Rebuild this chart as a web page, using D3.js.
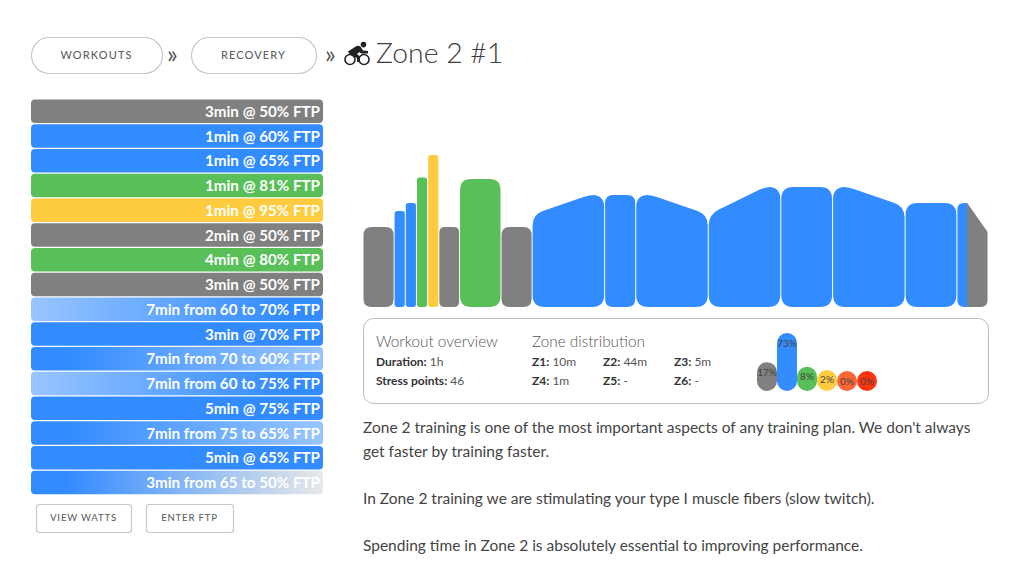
<!DOCTYPE html>
<html><head><meta charset="utf-8">
<script src="https://cdn.jsdelivr.net/npm/d3@7/dist/d3.min.js"></script>
<style>html,body{margin:0;padding:0;background:#fff}svg{display:block;font-family:Lato,sans-serif}</style>
</head><body><svg id="c" width="1024" height="565"></svg>
<script>
const zoneColors = ["#808080","#328bff","#59bf59","#ffcc3f","#ff6633","#ff330d"];

const stepLabels = ["3min @ 50% FTP","1min @ 60% FTP","1min @ 65% FTP","1min @ 81% FTP","1min @ 95% FTP","2min @ 50% FTP","4min @ 80% FTP","3min @ 50% FTP","7min from 60 to 70% FTP","3min @ 70% FTP","7min from 70 to 60% FTP","7min from 60 to 75% FTP","5min @ 75% FTP","7min from 75 to 65% FTP","5min @ 65% FTP","3min from 65 to 50% FTP"];
const stepMinutes = [3,1.08,1.08,1.08,1.08,2,4,3,7,3,7,7,5,7,5,3];
const stepFrom = [50,60,65,81,95,50,80,50,60,70,70,60,75,75,65,65];
const stepTo   = [50,60,65,81,95,50,80,50,70,70,60,75,75,65,65,47];
const stepZone = [0,1,1,2,3,0,2,0,1,1,1,1,1,1,1,1];
const stepEndZone = [0,1,1,2,3,0,2,0,1,1,1,1,1,1,1,0];
const lastKneeMinutes = 1;

const zoneLabels = ["17%","73%","8%","2%","0%","0%"];
const zoneShare = [17,73,8,2,0,0];
const overviewLabels = [["Duration:"," 1h"],["Stress points:"," 46"]];
const zoneTimes = [["Z1:"," 10m"],["Z2:"," 44m"],["Z3:"," 5m"],["Z4:"," 1m"],["Z5:"," -"],["Z6:"," -"]];
const paragraphLines = ["Zone 2 training is one of the most important aspects of any training plan. We don't always","get faster by training faster.","In Zone 2 training we are stimulating your type I muscle fibers (slow twitch).","Spending time in Zone 2 is absolutely essential to improving performance."];

const svg = d3.select("#c"), defs = svg.append("defs");

// ---------- header
function pill(x,y,w,h,r,label,fs,ls){
  const g = svg.append("g");
  g.append("rect").attr("x",x+.5).attr("y",y+.5).attr("width",w).attr("height",h).attr("rx",r)
    .attr("fill","#fff").attr("stroke","#c8c8c8").attr("stroke-width",1.2);
  g.append("text").attr("x",x+w/2).attr("y",y+h/2+fs*0.36).attr("text-anchor","middle")
    .attr("font-size",fs).attr("font-weight",500).attr("letter-spacing",ls).attr("fill","#5f5f5f").text(label);
}
pill(31,37,131,36,18,"WORKOUTS",11,1.1);
pill(191,37,125,36,18,"RECOVERY",11,1.1);
pill(36,504,95,28,3,"VIEW WATTS",9.6,.8);
pill(146,504,87,28,3,"ENTER FTP",9.6,.8);
[[167,63],[325,63]].forEach(p=>svg.append("text").attr("x",p[0]).attr("y",p[1]).attr("font-size",25).attr("font-weight",400).attr("fill","#555").text("»"));

// cyclist icon
const ic = svg.append("g").attr("transform","translate(344,42)").attr("fill","none").attr("stroke","#222");
ic.append("circle").attr("cx",6).attr("cy",17.5).attr("r",5).attr("stroke-width",1.6);
ic.append("circle").attr("cx",20).attr("cy",17.5).attr("r",5).attr("stroke-width",1.6);
ic.append("circle").attr("cx",19.5).attr("cy",2.6).attr("r",2.8).attr("fill","#222").attr("stroke","none");
ic.append("path").attr("fill","#222").attr("stroke","none")
  .attr("d","M4 9.5 L12.5 4 Q16 3 17.5 6 L19 8.5 L24 9 L24 11.5 L17 11.5 L15.5 10 L13 12 L16 14.5 L16 20 L13 20 L13 16 L8 14 Q5 12.5 4 9.5Z");
svg.append("text").attr("x",376).attr("y",63).attr("font-size",28.4).attr("font-weight",300).attr("fill","#3c3c3c").text("Zone 2 #1");

// ---------- step list
const rowY = d3.scaleBand().domain(d3.range(stepLabels.length)).range([99.5,494.3]).paddingInner(0.05);
const pale = (i,f)=>d3.interpolateRgb(zoneColors[i],"#fff")(f);
stepLabels.forEach((lab,i)=>{
  const z=stepZone[i], ze=stepEndZone[i], up=stepFrom[i]<stepTo[i], down=stepFrom[i]>stepTo[i];
  let c0=zoneColors[z], c1=zoneColors[ze];
  if(up) c0=pale(z,.5);
  else if(down) c1=(ze!==z)?pale(ze,.82):pale(ze,.5);
  const g=defs.append("linearGradient").attr("id","row"+i);
  g.append("stop").attr("offset",up?"0%":"12%").attr("stop-color",c0);
  g.append("stop").attr("offset",up?"88%":"100%").attr("stop-color",c1);
  svg.append("rect").attr("x",31).attr("y",rowY(i)).attr("width",292).attr("height",rowY.bandwidth()).attr("rx",4).attr("fill",`url(#row${i})`);
  svg.append("text").attr("x",320).attr("y",rowY(i)+rowY.bandwidth()/2+5.6).attr("text-anchor","end")
    .attr("font-size",15.2).attr("font-weight",700).attr("fill","#fff").text(lab);
});

// ---------- profile chart
const cum = d3.cumsum(stepMinutes);
const x = d3.scaleLinear().domain([0,cum[cum.length-1]]).range([363,988]);
const y = d3.scaleLinear().domain([0,100]).range([307,147]);
function roundedPoly(pts){
  const n=pts.length; let d="";
  pts.forEach((p,i)=>{
    const a=pts[(i-1+n)%n], b=pts[(i+1)%n], r=p[2];
    const la=Math.hypot(a[0]-p[0],a[1]-p[1]), lb=Math.hypot(b[0]-p[0],b[1]-p[1]);
    const s=[p[0]+(a[0]-p[0])*r/la,p[1]+(a[1]-p[1])*r/la], e=[p[0]+(b[0]-p[0])*r/lb,p[1]+(b[1]-p[1])*r/lb];
    d+=(i?"L":"M")+s[0]+" "+s[1]+"Q"+p[0]+" "+p[1]+" "+e[0]+" "+e[1];
  });
  return d+"Z";
}
stepMinutes.forEach((m,i)=>{
  const t0=i?cum[i-1]:0, x0=x(t0)+.5, x1=x(cum[i])-.5;
  const r=Math.min(12,(x1-x0)*.27), split=stepZone[i]!==stepEndZone[i];
  let pts;
  if(split){
    const k=x(t0+lastKneeMinutes);
    pts=[[x0,y(0),r*.8],[x0,y(stepFrom[i]),r*.8],[k,y(stepFrom[i]),0.5],[x1,y(stepTo[i]),1],[x1,y(0),r*.8]];
    const g=defs.append("linearGradient").attr("id","bar"+i).attr("gradientUnits","userSpaceOnUse")
      .attr("x1",x0).attr("x2",x1).attr("y1",0).attr("y2",0);
    const off=(k-x0)/(x1-x0);
    [[off,zoneColors[stepZone[i]]],[off,zoneColors[stepEndZone[i]]]].forEach(s=>g.append("stop").attr("offset",s[0]).attr("stop-color",s[1]));
  } else if(stepFrom[i]<stepTo[i]){
    pts=[[x0,y(0),r],[x0,y(stepFrom[i])+3.5,r*.9],[x1-15,y(stepTo[i]),6],[x1,y(stepTo[i]),12],[x1,y(0),r]];
  } else if(stepFrom[i]>stepTo[i]){
    pts=[[x0,y(0),r],[x0,y(stepFrom[i]),12],[x0+15,y(stepFrom[i]),6],[x1,y(stepTo[i])+3.5,r*.9],[x1,y(0),r]];
  } else {
    pts=[[x0,y(0),r],[x0,y(stepFrom[i]),r],[x1,y(stepTo[i]),r],[x1,y(0),r]];
  }
  svg.append("path").attr("d",roundedPoly(pts))
    .attr("fill",split?`url(#bar${i})`:zoneColors[stepZone[i]]);
});

// ---------- overview box
svg.append("rect").attr("x",363.5).attr("y",318.5).attr("width",625).attr("height",85).attr("rx",10)
  .attr("fill","#fff").attr("stroke","#bdbdbd");
[["Workout overview",376],["Zone distribution",532]].forEach(d=>
  svg.append("text").attr("x",d[1]).attr("y",347).attr("font-size",15.3).attr("font-weight",300).attr("fill","#555").text(d[0]));
function kv(px,py,pair){
  const t=svg.append("text").attr("x",px).attr("y",py).attr("font-size",12).attr("fill","#555");
  t.append("tspan").attr("font-weight",700).attr("fill","#333").text(pair[0]);
  t.append("tspan").text(pair[1]);
}
overviewLabels.forEach((p,i)=>kv(376,366+i*19,p));
const colX=d3.scalePoint().domain([0,1,2]).range([532,674]);
zoneTimes.forEach((p,i)=>kv(colX(i%3),366+Math.floor(i/3)*19,p));

// zone distribution bars
const bx=d3.scaleBand().domain(d3.range(zoneLabels.length)).range([757,877]);
const bh=d3.scaleLinear().domain([0,73]).range([20,58]);
zoneShare.forEach((v,i)=>{
  const h=bh(v), top=391-h;
  svg.append("rect").attr("x",bx(i)).attr("y",top).attr("width",bx.bandwidth()).attr("height",h).attr("rx",10).attr("fill",zoneColors[i]);
  svg.append("text").attr("x",bx(i)+bx.bandwidth()/2).attr("y",top+13.5).attr("text-anchor","middle")
    .attr("font-size",10).attr("fill","#444").text(zoneLabels[i]);
});

// ---------- paragraphs
const lineBase=[433,456.5,504,551];
paragraphLines.forEach((l,i)=>svg.append("text").attr("x",363).attr("y",lineBase[i]).attr("font-size",15.5).attr("fill","#444").text(l));
</script></body></html>
